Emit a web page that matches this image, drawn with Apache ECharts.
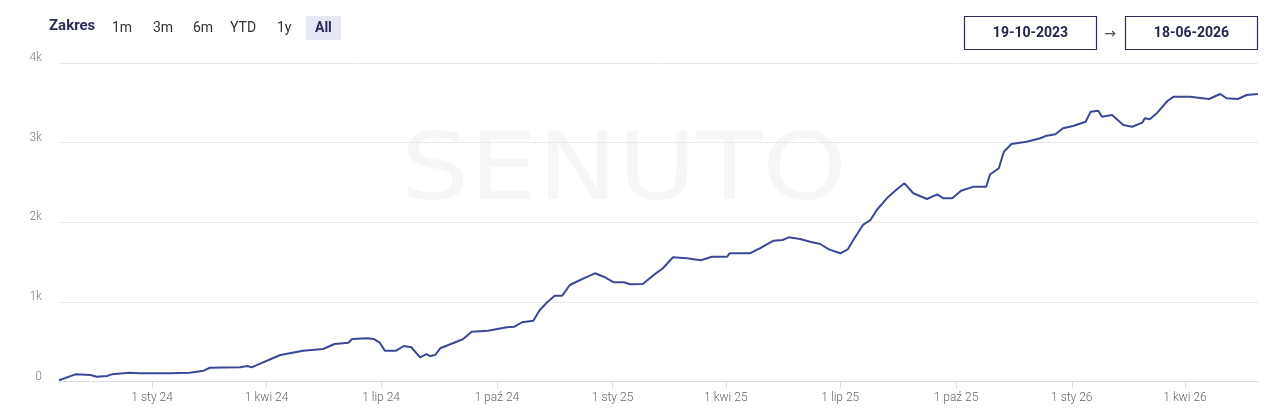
<!DOCTYPE html>
<html>
<head>
<meta charset="utf-8">
<script src="https://cdn.jsdelivr.net/npm/echarts@6/dist/echarts.min.js"></script>
<style>
  html, body { margin: 0; padding: 0; background: #ffffff; }
  #chart { width: 1280px; height: 416px; }
</style>
</head>
<body>
<div id="chart"></div>
<script>
// ---- data ----
const dates = ['2023-10-19','2023-11-01','2023-11-13','2023-11-18','2023-11-26','2023-11-30','2023-12-14','2023-12-22','2024-01-15','2024-01-31',
'2024-02-11','2024-02-16','2024-03-11','2024-03-17','2024-03-20','2024-04-04','2024-04-12','2024-04-30','2024-05-16','2024-05-25',
'2024-06-05','2024-06-08','2024-06-20','2024-06-25','2024-06-30','2024-07-04','2024-07-13','2024-07-19','2024-07-25','2024-08-01',
'2024-08-06','2024-08-09','2024-08-13','2024-08-17','2024-08-27','2024-09-04','2024-09-11','2024-09-24','2024-10-09','2024-10-15',
'2024-10-21','2024-10-30','2024-11-04','2024-11-10','2024-11-16','2024-11-22','2024-11-28','2024-12-09','2024-12-18','2024-12-25',
'2025-01-02','2025-01-10','2025-01-15','2025-01-25','2025-02-02','2025-02-10','2025-02-18','2025-03-01','2025-03-12','2025-03-21',
'2025-04-02','2025-04-04','2025-04-20','2025-04-28','2025-05-09','2025-05-16','2025-05-21','2025-05-30','2025-06-07','2025-06-15',
'2025-06-22','2025-07-01','2025-07-07','2025-07-11','2025-07-19','2025-07-25','2025-07-30','2025-08-07','2025-08-15','2025-08-21',
'2025-08-28','2025-09-08','2025-09-16','2025-09-21','2025-09-28','2025-10-05','2025-10-15','2025-10-25','2025-10-28','2025-11-04',
'2025-11-08','2025-11-14','2025-11-26','2025-12-07','2025-12-12','2025-12-19','2025-12-25','2026-01-02','2026-01-12','2026-01-16',
'2026-01-22','2026-01-25','2026-02-02','2026-02-11','2026-02-18','2026-02-26','2026-02-28','2026-03-04','2026-03-10','2026-03-18',
'2026-03-23','2026-04-05','2026-04-20','2026-04-29','2026-05-04','2026-05-13','2026-05-20','2026-05-29'];

const values = [15,90,82,60,69,90,111,103,103,111,
136,173,178,195,178,279,333,387,408,471,
487,534,542,534,487,387,387,446,430,304,
345,320,333,417,480,530,625,638,681,688,
744,764,895,995,1078,1078,1212,1296,1359,1316,
1246,1246,1221,1225,1329,1422,1560,1547,1522,1567,
1567,1610,1610,1673,1768,1777,1811,1790,1756,1727,
1660,1610,1660,1768,1966,2028,2154,2301,2414,2489,
2364,2292,2351,2301,2301,2396,2447,2447,2600,2678,
2886,2983,3012,3055,3087,3105,3180,3209,3263,3389,
3401,3326,3347,3222,3200,3251,3306,3293,3376,3523,
3577,3577,3548,3611,3557,3548,3598,3611];

const tickDates = ['2024-01-01','2024-04-01','2024-07-01','2024-10-01','2025-01-01','2025-04-01','2025-07-01','2025-10-01','2026-01-01','2026-04-01'];
const tickLabels = ['1 sty 24','1 kwi 24','1 lip 24','1 paź 24','1 sty 25','1 kwi 25','1 lip 25','1 paź 25','1 sty 26','1 kwi 26'];
const yTickLabels = ['0','1k','2k','3k','4k'];
const rangeOptions = ['1m','3m','6m','YTD','1y','All'];
const rangeStart = '19-10-2023';
const rangeEnd = '18-06-2026';

// ---- helpers ----
function ts(s) { const p = s.split('-').map(Number); return Date.UTC(p[0], p[1] - 1, p[2]); }
const tickTs = tickDates.map(ts);
const seriesData = dates.map((d, i) => [ts(d), values[i]]);

const navy = '#2a2d57';
const optX = [112, 153, 193, 230, 277, 315];

const graphics = [
  { type: 'text', z: -10, silent: true, x: 624, y: 175, scaleX: 1.17, scaleY: 1,
    style: { text: 'SENUTO', x: 0, y: 0, align: 'center', verticalAlign: 'middle',
      font: 'normal 92px "DejaVu Sans"', fill: '#f6f6f6' } },
  { type: 'text', style: { text: 'Zakres', x: 49, y: 26, verticalAlign: 'middle',
      font: 'bold 15px Roboto', fill: navy } },
  { type: 'rect', shape: { x: 306, y: 16, width: 35, height: 24 }, style: { fill: '#e5e8f4' } },
  { type: 'rect', shape: { x: 964.5, y: 16.5, width: 132, height: 33 }, style: { fill: '#fff', stroke: navy, lineWidth: 1.2 } },
  { type: 'rect', shape: { x: 1125.5, y: 16.5, width: 132, height: 33 }, style: { fill: '#fff', stroke: navy, lineWidth: 1.2 } },
  { type: 'text', style: { text: rangeStart, x: 1030.5, y: 33, align: 'center', verticalAlign: 'middle',
      font: 'bold 14px Roboto', fill: '#23264f' } },
  { type: 'text', style: { text: rangeEnd, x: 1191.5, y: 33, align: 'center', verticalAlign: 'middle',
      font: 'bold 14px Roboto', fill: '#23264f' } },
  { type: 'text', style: { text: '→', x: 1110, y: 34, align: 'center', verticalAlign: 'middle',
      font: 'normal 14px "DejaVu Sans"', fill: '#555' } }
];
rangeOptions.forEach((t, i) => {
  graphics.push({ type: 'text', style: { text: t, x: optX[i], y: 28, verticalAlign: 'middle',
    font: (t === 'All' ? 'bold ' : 'normal ') + '14px Roboto', fill: t === 'All' ? navy : '#333' } });
});

const chart = echarts.init(document.getElementById('chart'), null, { renderer: 'canvas' });
chart.setOption({
  animation: false,
  backgroundColor: '#ffffff',
  grid: { left: 59, right: 22, top: 63, bottom: 34.5, containLabel: false },
  xAxis: {
    type: 'value',
    min: ts(dates[0]),
    max: ts(dates[dates.length - 1]),
    axisLine: { show: true, lineStyle: { color: '#d7dde8', width: 1 } },
    axisTick: { show: true, customValues: tickTs, length: 7, lineStyle: { color: '#d7dde8' } },
    axisLabel: {
      customValues: tickTs,
      margin: 10,
      color: '#666',
      fontFamily: 'Roboto',
      fontWeight: 300,
      fontSize: 12,
      formatter: function (v) {
        const i = tickTs.indexOf(v);
        return i >= 0 ? tickLabels[i] : '';
      }
    },
    splitLine: { show: false }
  },
  yAxis: {
    type: 'value',
    min: 0, max: 4000, interval: 1000,
    axisLine: { show: false },
    axisTick: { show: false },
    axisLabel: {
      margin: 17,
      color: '#777',
      fontFamily: 'Roboto',
      fontWeight: 300,
      fontSize: 12,
      verticalAlign: 'bottom',
      lineHeight: 10,
      formatter: function (v) { return yTickLabels[Math.round(v / 1000)]; }
    },
    splitLine: { show: true, lineStyle: { color: '#e9e9e9', width: 1 } }
  },
  series: [{
    type: 'line',
    data: seriesData,
    showSymbol: false,
    symbol: 'none',
    smooth: false,
    lineStyle: { color: '#3b4896', width: 2 },
    z: 5
  }],
  graphic: graphics
});
</script>
</body>
</html>
